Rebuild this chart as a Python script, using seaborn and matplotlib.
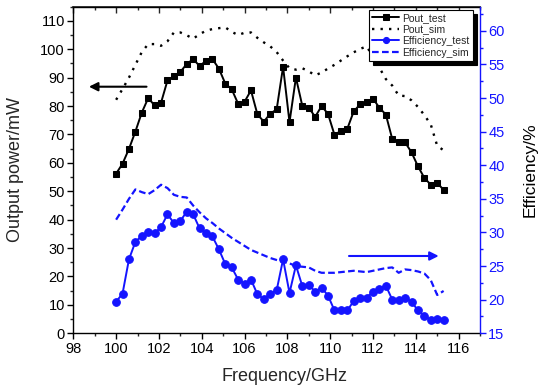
import numpy as np
import pandas as pd
import seaborn as sns
import matplotlib.pyplot as plt
from matplotlib.ticker import MultipleLocator

# Frequency grid, 100 to 115.3 GHz in 0.3 GHz steps
freq = [round(100 + 0.3 * i, 1) for i in range(52)]

pout_test = [56.2, 59.7, 64.9, 71.0, 77.7, 82.8, 80.2, 81.2, 89.0, 90.6,
             92.0, 94.8, 96.5, 94.1, 95.9, 96.5, 93.2, 87.9, 85.9, 80.8,
             81.5, 85.5, 77.1, 74.5, 77.3, 78.8, 93.8, 74.3, 90.0, 80.0,
             79.4, 76.2, 80.0, 77.2, 69.9, 71.2, 72.0, 78.1, 80.6, 81.4,
             82.6, 79.4, 77.0, 68.4, 67.5, 67.2, 63.7, 58.8, 54.7, 52.3,
             52.9, 50.5]

pout_sim = [82.2, 86.0, 90.0, 94.5, 99.0, 101.8, 101.8, 101.2, 102.8, 105.9,
            105.9, 104.9, 103.7, 105.3, 106.5, 107.1, 107.4, 107.7, 106.1, 105.0,
            105.8, 105.9, 104.0, 102.4, 101.0, 99.0, 96.0, 93.3, 92.8, 93.3,
            92.2, 90.8, 91.8, 93.2, 94.5, 96.0, 97.5, 98.9, 100.1, 101.0,
            97.5, 93.5, 89.5, 87.2, 83.7, 83.5, 82.0, 79.7, 76.8, 73.5,
            66.0, 64.4]

eff_test = [19.7, 20.9, 26.0, 28.6, 29.5, 30.1, 29.9, 30.8, 32.7, 31.4,
            31.7, 33.1, 32.7, 30.6, 29.9, 29.4, 27.5, 25.3, 24.8, 23.0,
            22.4, 23.0, 20.8, 20.1, 20.9, 21.4, 26.0, 21.0, 25.1, 22.0,
            22.2, 21.2, 21.8, 20.6, 18.4, 18.4, 18.4, 19.8, 20.3, 20.3,
            21.2, 21.6, 22.1, 20.0, 20.0, 20.3, 19.7, 18.4, 17.6, 17.0,
            17.1, 17.0]

eff_sim = [31.9, 33.4, 35.0, 36.4, 36.0, 35.7, 36.3, 37.1, 36.6, 35.6,
           35.3, 35.2, 34.0, 33.0, 32.1, 31.4, 30.6, 29.9, 29.2, 28.6,
           28.0, 27.4, 27.0, 26.6, 26.2, 25.9, 25.6, 25.4, 25.0, 24.9,
           24.8, 24.3, 24.0, 24.0, 24.0, 24.1, 24.2, 24.3, 24.2, 24.1,
           24.3, 24.5, 24.7, 24.8, 24.0, 24.5, 24.4, 24.2, 23.9, 22.9,
           20.7, 21.3]

df = pd.DataFrame({"freq": freq, "pout_test": pout_test, "pout_sim": pout_sim,
                   "eff_test": eff_test, "eff_sim": eff_sim})

sns.set_theme(style="ticks")
plt.rcParams['font.family'] = ['Liberation Sans', 'DejaVu Sans']

BLUE = "#1414ff"

fig, ax = plt.subplots(figsize=(5.43, 3.88), dpi=100)
fig.subplots_adjust(left=0.135, right=0.884, bottom=0.141, top=0.983)
ax2 = ax.twinx()

sns.lineplot(data=df, x="freq", y="pout_test", ax=ax, color="black", marker="s",
             markersize=5, markeredgecolor="black", linewidth=1.4, label="Pout_test", legend=False)
sns.lineplot(data=df, x="freq", y="pout_sim", ax=ax, color="black", linestyle=(0, (1, 2.6)),
             linewidth=1.7, label="Pout_sim", legend=False)
sns.lineplot(data=df, x="freq", y="eff_test", ax=ax2, color=BLUE, marker="o",
             markersize=5.5, markeredgecolor=BLUE, linewidth=1.4, label="Efficiency_test", legend=False)
sns.lineplot(data=df, x="freq", y="eff_sim", ax=ax2, color=BLUE, linestyle=(0, (3, 1.5)),
             linewidth=1.6, label="Efficiency_sim", legend=False)

# Arrows pointing at each axis
ax.annotate("", xy=(98.6, 86.8), xytext=(101.55, 86.8),
            arrowprops=dict(arrowstyle="-|>", color="black", lw=1.5, mutation_scale=13))
ax2.annotate("", xy=(115.2, 26.5), xytext=(110.75, 26.5),
             arrowprops=dict(arrowstyle="-|>", color=BLUE, lw=1.5, mutation_scale=13))

ax.set_xlim(98, 117)
ax.set_ylim(0, 115)
ax2.set_ylim(15, 63.6)

ax.xaxis.set_major_locator(MultipleLocator(2))
ax.xaxis.set_minor_locator(MultipleLocator(1))
ax.yaxis.set_major_locator(MultipleLocator(10))
ax.yaxis.set_minor_locator(MultipleLocator(5))
ax2.yaxis.set_major_locator(MultipleLocator(5))
ax2.yaxis.set_minor_locator(MultipleLocator(2.5))

ax.tick_params(axis="both", which="major", direction="out", length=4, width=1,
               labelsize=10.5, colors="black", pad=2)
ax.tick_params(axis="both", which="minor", direction="out", length=2.5, width=1)
ax2.tick_params(axis="y", which="major", direction="out", length=4, width=1,
                labelsize=10.5, colors=BLUE, pad=2)
ax2.tick_params(axis="y", which="minor", direction="out", length=2.5, width=1, colors=BLUE)

top = ax.secondary_xaxis("top")
top.xaxis.set_major_locator(MultipleLocator(2))
top.xaxis.set_minor_locator(MultipleLocator(1))
top.tick_params(axis="x", which="major", direction="in", length=4, width=1, labeltop=False)
top.tick_params(axis="x", which="minor", direction="in", length=2.5, width=1)

for s in ax.spines.values():
    s.set_color("black")
    s.set_linewidth(1)
ax.spines["right"].set_visible(False)
ax2.spines["right"].set_color(BLUE)
ax2.spines["right"].set_linewidth(1)
ax2.spines["left"].set_visible(False)
ax2.spines["top"].set_visible(False)
ax2.spines["bottom"].set_visible(False)

ax.set_xlabel("Frequency/GHz", fontsize=13)
ax.set_ylabel("Output power/mW", fontsize=13)
ax2.set_ylabel("Efficiency/%", fontsize=12.5, color="black")
ax.xaxis.set_label_coords(0.52, -0.105)
ax.yaxis.set_label_coords(-0.121, 0.5)
ax2.yaxis.set_label_coords(1.105, 0.5)

handles = ax.get_lines()[:2] + ax2.get_lines()[:2]
leg = ax2.legend(handles=handles, labels=["Pout_test", "Pout_sim", "Efficiency_test", "Efficiency_sim"],
                 loc="upper right", bbox_to_anchor=(0.982, 0.99), fontsize=7.5,
                 frameon=True, fancybox=False, shadow={"color": "black", "alpha": 1, "ox": 3, "oy": -3},
                 handlelength=2.6, handletextpad=0.3, labelspacing=0.15, borderpad=0.3,
                 borderaxespad=0, markerscale=0.8)
leg.get_frame().set_edgecolor("black")
leg.get_frame().set_linewidth(0.8)

plt.savefig("out.png", dpi=100)
